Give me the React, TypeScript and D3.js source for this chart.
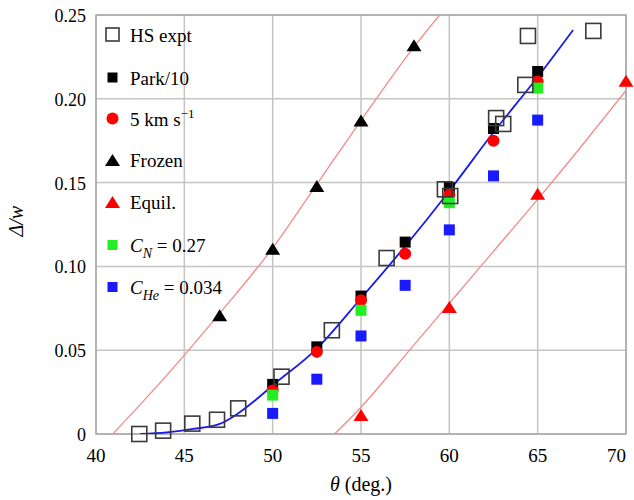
import React, { useEffect, useRef } from "react";
import * as d3 from "d3";

// values
const hsTheta = [42.45, 43.8, 45.45, 46.85, 48.05, 50.5, 53.35, 56.45, 59.75, 60.05, 62.65, 63.05, 64.3, 64.45, 68.15];
const hsDelta = [0, 0.002, 0.0062, 0.0085, 0.0153, 0.0342, 0.0619, 0.105, 0.146, 0.142, 0.1885, 0.185, 0.2083, 0.2375, 0.2405];

const simTheta = [50, 52.5, 55, 57.5, 60, 62.5, 65];
const parkDelta = [0.0296, 0.052, 0.0823, 0.1145, 0.147, 0.1823, 0.2163];
const kmDelta = [0.026, 0.049, 0.0798, 0.1075, 0.1427, 0.175, 0.2103];
const heDelta = [0.0123, 0.0327, 0.0585, 0.0887, 0.1218, 0.154, 0.1873];

const cnTheta = [50, 55, 60, 65];
const cnDelta = [0.0232, 0.0738, 0.138, 0.2064];

const frozenTheta = [47, 50, 52.5, 55, 58];
const frozenDelta = [0.0708, 0.1105, 0.148, 0.187, 0.232];

const equilTheta = [55, 60, 65, 70];
const equilDelta = [0.0113, 0.0758, 0.1433, 0.2107];

// curves
const fitTheta = [42.5, 44, 45.5, 47, 48, 49, 50, 52.5, 55, 57.5, 60, 62.5, 65, 67];
const fitDelta = [0, 0.001, 0.003, 0.006, 0.012, 0.02, 0.029, 0.051, 0.081, 0.112, 0.145, 0.18, 0.213, 0.241];

const frozenLineTheta = [40.95, 44, 47, 50, 52.5, 55, 58, 59.45];
const frozenLineDelta = [0, 0.035, 0.072, 0.111, 0.149, 0.187, 0.231, 0.25];

const equilLineTheta = [53.5, 55, 57.75, 60, 62.5, 65, 67.5, 70];
const equilLineDelta = [0, 0.016, 0.05, 0.078, 0.109, 0.14, 0.172, 0.205];

const xTicks = [40, 45, 50, 55, 60, 65, 70];
const yTicks = [0, 0.05, 0.1, 0.15, 0.2, 0.25];
const yTickLabels = ["0", "0.05", "0.10", "0.15", "0.20", "0.25"];

const zip = (a: number[], b: number[]) => a.map((v, i) => [v, b[i]] as [number, number]);

export default function App() {
  const ref = useRef<SVGSVGElement>(null);

  useEffect(() => {
    const svg = d3.select(ref.current);
    svg.selectAll("*").remove();

    const width = 634;
    const height = 500;
    const margin = { top: 15, right: 8, bottom: 66, left: 96 };
    const font = "Liberation Serif, DejaVu Serif, Noto Serif, Times New Roman, serif";

    const x = d3.scaleLinear().domain([40, 70]).range([margin.left, width - margin.right]);
    const y = d3.scaleLinear().domain([0, 0.25]).range([height - margin.bottom, margin.top]);

    const clipId = "plot-clip";
    svg
      .append("clipPath")
      .attr("id", clipId)
      .append("rect")
      .attr("x", x(40))
      .attr("y", y(0.25))
      .attr("width", x(70) - x(40))
      .attr("height", y(0) - y(0.25));

    // grid
    const grid = svg.append("g").attr("stroke", "#c4c4c4").attr("stroke-width", 1.5);
    xTicks.forEach((t) => {
      grid.append("line").attr("x1", x(t)).attr("x2", x(t)).attr("y1", y(0)).attr("y2", y(0.25));
    });
    yTicks.forEach((t) => {
      grid.append("line").attr("x1", x(40)).attr("x2", x(70)).attr("y1", y(t)).attr("y2", y(t));
    });
    svg
      .append("rect")
      .attr("x", x(40))
      .attr("y", y(0.25))
      .attr("width", x(70) - x(40))
      .attr("height", y(0) - y(0.25))
      .attr("fill", "none")
      .attr("stroke", "#a8a8a8")
      .attr("stroke-width", 1.5);

    // tick labels (last one pulled in to stay inside the frame, as in the figure)
    svg
      .append("g")
      .selectAll("text")
      .data(xTicks)
      .join("text")
      .attr("x", (d) => Math.min(x(d), width - 1))
      .attr("y", 462)
      .attr("text-anchor", (d) => (x(d) + 10 > width ? "end" : "middle"))
      .attr("font-family", font)
      .attr("font-size", 19)
      .text((d) => d);

    svg
      .append("g")
      .selectAll("text")
      .data(yTicks)
      .join("text")
      .attr("x", 86)
      .attr("y", (d) => y(d) + 7)
      .attr("text-anchor", "end")
      .attr("font-family", font)
      .attr("font-size", 18)
      .text((d, i) => yTickLabels[i]);

    // axis titles
    const xt = svg
      .append("text")
      .attr("x", x(55))
      .attr("y", 491)
      .attr("text-anchor", "middle")
      .attr("font-family", font)
      .attr("font-size", 20);
    xt.append("tspan").attr("font-style", "italic").text("θ");
    xt.append("tspan").text(" (deg.)");

    svg
      .append("text")
      .attr("transform", `translate(23, ${y(0.127)}) rotate(-90)`)
      .attr("text-anchor", "middle")
      .attr("font-family", font)
      .attr("font-style", "italic")
      .attr("font-size", 20)
      .text("Δ/w");

    const plot = svg.append("g").attr("clip-path", `url(#${clipId})`);
    const line = d3
      .line<[number, number]>()
      .x((d) => x(d[0]))
      .y((d) => y(d[1]))
      .curve(d3.curveMonotoneX);

    plot
      .append("path")
      .attr("d", line(zip(frozenLineTheta, frozenLineDelta)))
      .attr("fill", "none")
      .attr("stroke", "#f48a8a")
      .attr("stroke-width", 1.3);
    plot
      .append("path")
      .attr("d", line(zip(equilLineTheta, equilLineDelta)))
      .attr("fill", "none")
      .attr("stroke", "#f48a8a")
      .attr("stroke-width", 1.3);
    plot
      .append("path")
      .attr("d", line(zip(fitTheta, fitDelta)))
      .attr("fill", "none")
      .attr("stroke", "#1a1aee")
      .attr("stroke-width", 1.8);

    // marker helpers
    const squareAt = (g: any, cx: number, cy: number, s: number, fill: string) =>
      g.append("rect").attr("x", cx - s / 2).attr("y", cy - s / 2).attr("width", s).attr("height", s).attr("fill", fill);
    const triAt = (g: any, cx: number, cy: number, fill: string) =>
      g
        .append("path")
        .attr("d", `M${cx - 7.5},${cy + 6}L${cx + 7.5},${cy + 6}L${cx},${cy - 6}Z`)
        .attr("fill", fill);
    const circleAt = (g: any, cx: number, cy: number, fill: string) =>
      g.append("circle").attr("cx", cx).attr("cy", cy).attr("r", 6).attr("fill", fill);
    const hsAt = (g: any, cx: number, cy: number) =>
      g
        .append("rect")
        .attr("x", cx - 7.5)
        .attr("y", cy - 7.5)
        .attr("width", 15)
        .attr("height", 15)
        .attr("fill", "none")
        .attr("stroke", "#3a3a3a")
        .attr("stroke-width", 1.6);

    const marks = svg.append("g");
    zip(frozenTheta, frozenDelta).forEach(([a, b]) => triAt(marks, x(a), y(b), "#000"));
    zip(equilTheta, equilDelta).forEach(([a, b]) => triAt(marks, x(a), y(b), "#ff0000"));
    zip(simTheta, parkDelta).forEach(([a, b]) => squareAt(marks, x(a), y(b), 11, "#000"));
    zip(simTheta, kmDelta).forEach(([a, b]) => circleAt(marks, x(a), y(b), "#ff0000"));
    zip(cnTheta, cnDelta).forEach(([a, b]) => squareAt(marks, x(a), y(b), 11, "#22ee22"));
    zip(simTheta, heDelta).forEach(([a, b]) => squareAt(marks, x(a), y(b), 11, "#1a1aff"));
    zip(hsTheta, hsDelta).forEach(([a, b]) => hsAt(marks, x(a), y(b)));

    // legend
    const leg = svg.append("g");
    const lx = 112.5;
    const rows = [34.5, 77.5, 118.5, 160, 202, 245, 287];
    hsAt(leg, lx, rows[0]).attr("width", 13).attr("height", 13).attr("x", lx - 6.5).attr("y", rows[0] - 6.5);
    squareAt(leg, lx, rows[1], 10, "#000");
    circleAt(leg, lx, rows[2], "#ff0000");
    triAt(leg, lx, rows[3], "#000");
    triAt(leg, lx, rows[4], "#ff0000");
    squareAt(leg, lx, rows[5], 10, "#22ee22");
    squareAt(leg, lx, rows[6], 10, "#1a1aff");

    const lt = (i: number) =>
      leg
        .append("text")
        .attr("x", 130)
        .attr("y", rows[i] + 7)
        .attr("font-family", font)
        .attr("font-size", 19);
    lt(0).text("HS expt");
    lt(1).text("Park/10");
    const t2 = lt(2);
    t2.append("tspan").text("5 km s");
    t2.append("tspan").attr("dy", -8).attr("font-size", 13).text("−1");
    lt(3).text("Frozen");
    lt(4).text("Equil.");
    const t5 = lt(5);
    t5.append("tspan").attr("font-style", "italic").text("C");
    t5.append("tspan").attr("font-style", "italic").attr("dy", 6).attr("font-size", 14).text("N");
    t5.append("tspan").attr("dy", -6).text(" = 0.27");
    const t6 = lt(6);
    t6.append("tspan").attr("font-style", "italic").text("C");
    t6.append("tspan").attr("font-style", "italic").attr("dy", 6).attr("font-size", 14).text("He");
    t6.append("tspan").attr("dy", -6).text(" = 0.034");
  }, []);

  return (
    <svg
      ref={ref}
      width={634}
      height={500}
      style={{ position: "absolute", left: 0, top: 0, background: "#fff" }}
    ></svg>
  );
}
